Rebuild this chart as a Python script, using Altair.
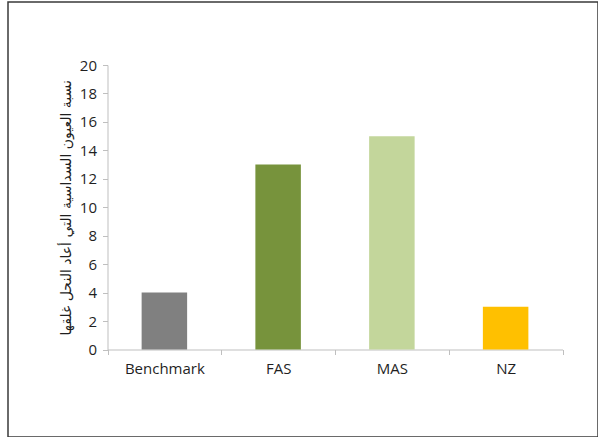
import altair as alt
import pandas as pd

categories = ["Benchmark", "FAS", "MAS", "NZ"]
values = [4, 13, 15, 3]
colors = ["#808080", "#77933c", "#c3d69b", "#ffc000"]
y_title = "نسبة العيون السداسية التي أعاد النحل غلقها"

df = pd.DataFrame({"cat": categories, "val": values})

VIEW_W, VIEW_H = 590, 435
X0, X1 = 99.5, 554.5
Y0, Y20 = 347.5, 63

bars = alt.Chart(df).mark_bar(width=alt.RelativeBandSize(0.4)).encode(
    x=alt.X("cat:N", sort=categories,
            scale=alt.Scale(range=[X0, X1], paddingInner=0, paddingOuter=0),
            axis=alt.Axis(title=None, orient="bottom", offset=-(VIEW_H - Y0),
                          tickBand="extent", labelAngle=0, labelFont="Open Sans",
                          labelFontSize=15, labelColor="#1f1f1f", labelPadding=7,
                          domainColor="#bfbfbf", tickColor="#bfbfbf", tickSize=5,
                          labelBound=False)),
    y=alt.Y("val:Q",
            scale=alt.Scale(domain=[0, 20], range=[Y0, Y20], nice=False, zero=True),
            axis=alt.Axis(title=y_title, orient="left", offset=-X0,
                          values=list(range(0, 21, 2)), grid=False,
                          labelFont="Open Sans", labelFontSize=15, labelColor="#1f1f1f",
                          labelPadding=6, domainColor="#bfbfbf", tickColor="#bfbfbf",
                          tickSize=5, titleFont="DejaVu Sans", titleFontSize=14,
                          titleFontWeight="normal", titleColor="#1f1f1f",
                          titlePadding=6)),
    color=alt.Color("cat:N", sort=categories,
                    scale=alt.Scale(domain=categories, range=colors), legend=None),
)

chart = bars.properties(
    width=VIEW_W, height=VIEW_H,
    padding={"left": 8, "top": 2, "right": 0, "bottom": 0},
    background="white",
).configure_view(stroke="#3a3a3a", strokeWidth=1.5)

chart.save("out.html", embed_options={"renderer": "svg", "actions": False})
